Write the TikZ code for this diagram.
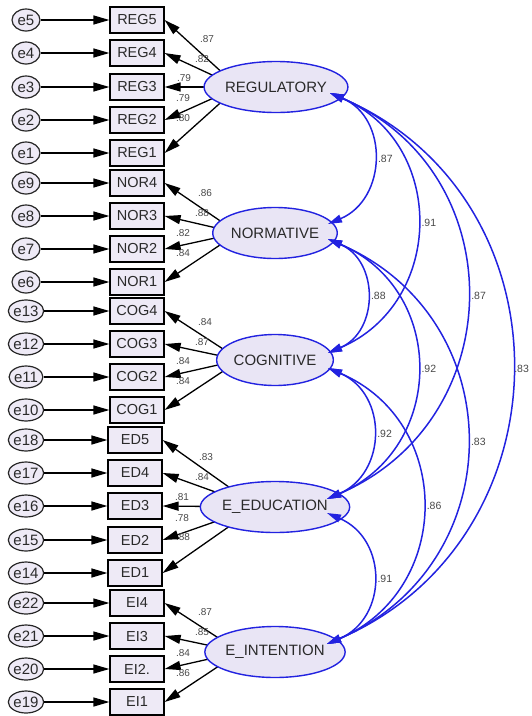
\documentclass[tikz,border=0pt]{standalone}
\usepackage{fontspec}
\setmainfont{Liberation Sans}
\usetikzlibrary{arrows.meta,shapes.geometric}
\pgfdeclarelayer{bg}
\pgfsetlayers{bg,main}
\definecolor{lav}{HTML}{EEEAF6}
\definecolor{latfill}{HTML}{E9E5F5}
\definecolor{covblue}{HTML}{2222E0}
\definecolor{txt}{HTML}{2A2A2A}
\definecolor{lbl}{HTML}{484848}
\tikzset{
  obsbox/.style={draw=black, line width=1.2pt, fill=lav, minimum width=54pt, minimum height=26pt, inner sep=0pt, text=txt, font=\fontsize{14.5}{15}\selectfont},
  errc/.style={ellipse, draw=black!85, line width=1.2pt, fill=lav, minimum width=28pt, minimum height=22pt, inner sep=0pt, text=txt, font=\fontsize{15}{15}\selectfont},
  latent/.style={ellipse, draw=covblue, line width=1.4pt, fill=latfill, minimum width=108pt, minimum height=51pt, inner sep=0pt, text=txt, font=\fontsize{15}{15}\selectfont},
  blk/.style={line width=1.3pt, -{Triangle[length=16pt,width=9pt]}},
  cov/.style={draw=covblue, line width=1.5pt, {Triangle[length=14pt,width=8pt]}-{Triangle[length=14pt,width=8pt]}},
  ld/.style={font=\fontsize{10}{10}\selectfont, text=lbl, inner sep=0pt},
  cl/.style={font=\fontsize{10.5}{10.5}\selectfont, text=lbl, inner sep=0pt, anchor=west},
}
\begin{document}
\begin{tikzpicture}[x=1pt,y=-1pt]
\useasboundingbox (0,0) rectangle (531,716);
% observed indicators and errors
\foreach \n/\t/\y/\e/\bx in {
  REG5/REG5/20/e5/137, REG4/REG4/53/e4/137, REG3/REG3/87/e3/137, REG2/REG2/120/e2/137, REG1/REG1/153/e1/137,
  NOR4/NOR4/183/e9/137, NOR3/NOR3/216/e8/137, NOR2/NOR2/249/e7/137, NOR1/NOR1/282/e6/137,
  COG4/COG4/311/e13/137, COG3/COG3/344/e12/137, COG2/COG2/377/e11/137, COG1/COG1/410/e10/137,
  ED5/ED5/440/e18/135, ED4/ED4/473/e17/135, ED3/ED3/506/e16/135, ED2/ED2/540/e15/135, ED1/ED1/573/e14/135,
  EI4/EI4/603/e22/137, EI3/EI3/636/e21/137, EI2/EI2./669/e20/137, EI1/EI1/702/e19/137}{
  \node[obsbox] (\n) at (\bx,\y) {\t};
  \node[errc] (\e) at (26,\y) {\e};
  \draw[blk] (\e) -- (\n);
}
% latent variables
\node[latent] (REG) at (276,87) {REGULATORY};
\node[latent] (NOR) at (275,233) {NORMATIVE};
\node[latent] (COG) at (275,360) {COGNITIVE};
\node[latent] (EDU) at (275,507) {E\_EDUCATION};
\node[latent] (INT) at (275,652) {E\_INTENTION};
% hidden origins of loadings
\coordinate (REGh) at (238,87);
\coordinate (NORh) at (238,233);
\coordinate (COGh) at (240,360);
\coordinate (EDUh) at (257,507);
\coordinate (INTh) at (240,652);
\begin{pgfonlayer}{bg}
\foreach \h/\b in {REGh/REG5, REGh/REG4, REGh/REG3, REGh/REG2, REGh/REG1,
  NORh/NOR4, NORh/NOR3, NORh/NOR2, NORh/NOR1,
  COGh/COG4, COGh/COG3, COGh/COG2, COGh/COG1,
  EDUh/ED5, EDUh/ED4, EDUh/ED3, EDUh/ED2, EDUh/ED1,
  INTh/EI4, INTh/EI3, INTh/EI2, INTh/EI1}{
  \draw[blk] (\h) -- (\b.east);
}
\end{pgfonlayer}
% loading labels
\foreach \i/\x/\y/\v in {
  1/207/39/.87, 2/202/59/.82, 3/184/78/.79, 4/183/98/.79, 5/183/118/.80,
  6/205/193/.86, 7/202/213/.88, 8/183/233/.82, 9/183/253/.84,
  10/205/322/.84, 11/202/342/.87, 12/183/361/.84, 13/183/381/.84,
  14/206/457/.83, 15/202/477/.84, 16/182/497/.81, 17/182/518/.78, 18/183/537/.88,
  19/205/612/.87, 20/202/632/.85, 21/183/653/.84, 22/183/673/.86}{
  \node[ld] (l\i) at (\x,\y) {\v};
}
% covariance anchor points
\coordinate (REGc) at (330,93);
\coordinate (NORu) at (328,224);
\coordinate (NORd) at (328,239);
\coordinate (COGu) at (328,353);
\coordinate (COGd) at (328,368);
\coordinate (EDUu) at (327,499);
\coordinate (EDUd) at (327,513);
\coordinate (INTu) at (327,644);
% covariances
\draw[cov] (REGc) .. controls +(59,25) and +(59,-25) .. (NORu) node[cl,midway,xshift=4pt] (c1) {.87};
\draw[cov] (REGc) .. controls +(117,50) and +(117,-50) .. (COGu) node[cl,midway,xshift=4pt] (c2) {.91};
\draw[cov] (REGc) .. controls +(184,79) and +(184,-79) .. (EDUu) node[cl,midway,xshift=4pt] (c3) {.87};
\draw[cov] (REGc) .. controls +(244,105) and +(244,-105) .. (INTu) node[cl,midway,xshift=2pt] (c4) {.83};
\draw[cov] (NORd) .. controls +(51,22) and +(51,-22) .. (COGu) node[cl,midway,xshift=4pt] (c5) {.88};
\draw[cov] (NORd) .. controls +(119,51) and +(119,-51) .. (EDUu) node[cl,midway,xshift=4pt] (c6) {.92};
\draw[cov] (NORd) .. controls +(185,80) and +(185,-80) .. (INTu) node[cl,midway,xshift=4pt] (c7) {.83};
\draw[cov] (COGd) .. controls +(60,26) and +(60,-26) .. (EDUu) node[cl,midway,xshift=4pt] (c8) {.92};
\draw[cov] (COGd) .. controls +(126,54) and +(126,-54) .. (INTu) node[cl,midway,xshift=4pt] (c9) {.86};
\draw[cov] (EDUd) .. controls +(61,26) and +(61,-26) .. (INTu) node[cl,midway,xshift=4pt] (c10) {.91};
\end{tikzpicture}
\end{document}
